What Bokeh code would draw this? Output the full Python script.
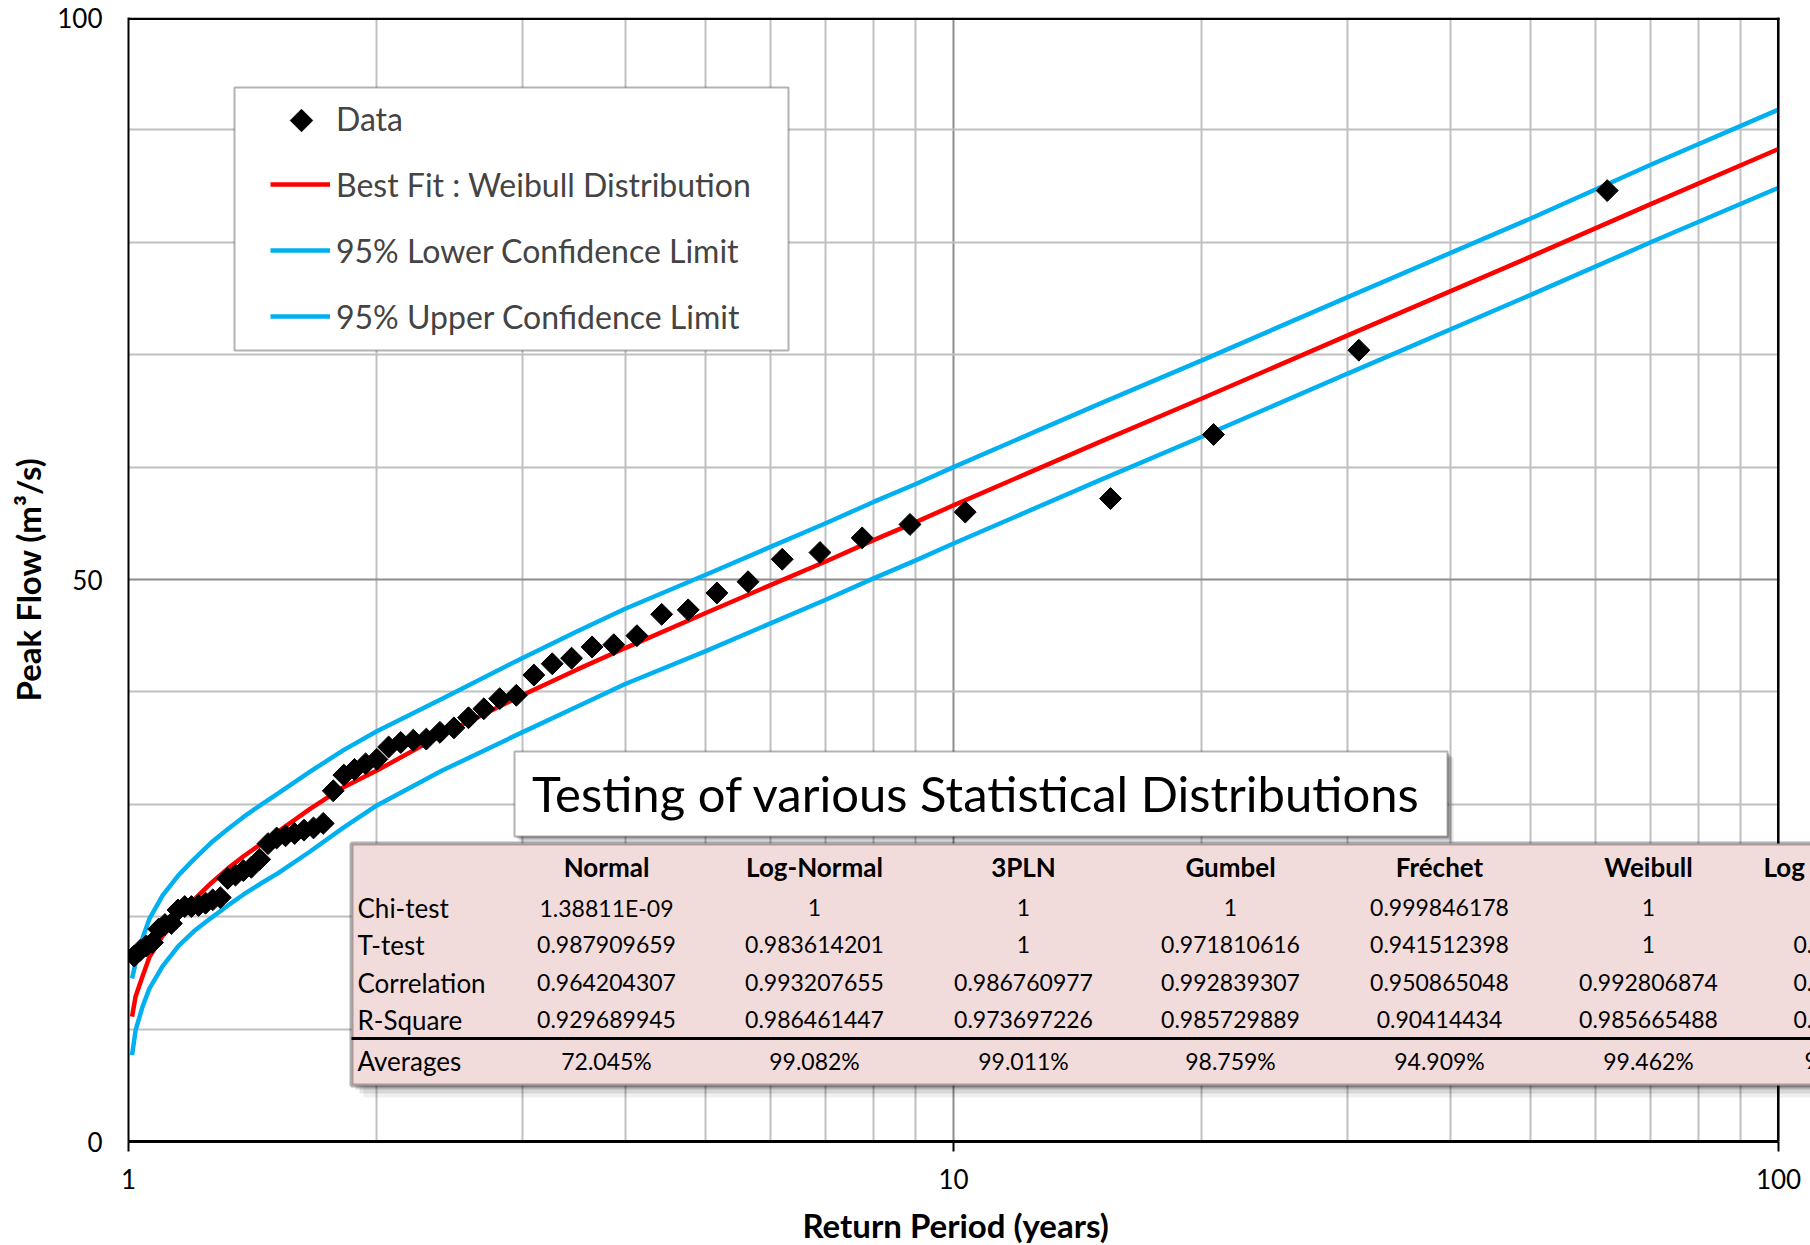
import math
from bokeh.plotting import figure
from bokeh.models import (FixedTicker, BoxAnnotation, PolyAnnotation, Label, Legend,
                          LegendItem, Range1d, Title)
from bokeh.embed import file_html
from bokeh.resources import INLINE

# ---------------- data ----------------
return_period = [62.0, 31.0, 20.667, 15.5, 10.333, 8.857, 7.75, 6.889, 6.2, 5.636,
                 5.167, 4.769, 4.429, 4.133, 3.875, 3.647, 3.444, 3.263, 3.1, 2.952,
                 2.818, 2.696, 2.583, 2.48, 2.385, 2.296, 2.214, 2.138, 2.067, 2.0,
                 1.938, 1.879, 1.824, 1.771, 1.722, 1.676, 1.632, 1.59, 1.55, 1.512,
                 1.476, 1.442, 1.409, 1.378, 1.348, 1.319, 1.292, 1.265, 1.24, 1.216,
                 1.192, 1.17, 1.148, 1.127, 1.107, 1.088, 1.069, 1.051, 1.033, 1.016]
peak_flow = [84.6, 70.4, 62.9, 57.2, 56.0, 54.9, 53.7, 52.4, 51.8, 49.8,
             48.8, 47.3, 46.9, 45.0, 44.2, 44.0, 43.0, 42.5, 41.5, 39.7,
             39.4, 38.5, 37.7, 36.8, 36.4, 35.8, 35.7, 35.5, 35.1, 34.0,
             33.6, 33.1, 32.6, 31.2, 28.3, 27.9, 27.7, 27.4, 27.2, 27.0,
             26.5, 25.1, 24.4, 24.1, 23.7, 23.4, 21.7, 21.5, 21.2, 21.0,
             20.9, 20.9, 20.6, 19.4, 19.3, 18.9, 17.7, 17.4, 17.0, 16.5]

fit_period = [1.01, 1.02, 1.04, 1.06, 1.10, 1.15, 1.20, 1.26, 1.32, 1.38, 1.45, 1.52,
              1.66, 1.82, 2.0, 2.4, 3.0, 3.5, 4.0, 5.0, 6.0, 7.0, 8.0, 9.0, 10.0,
              15.0, 20.0, 30.0, 50.0, 70.0, 100.0]
fit_weibull = [11.1, 12.9, 14.7, 16.4, 18.3, 20.0, 21.5, 23.0, 24.3, 25.4, 26.5, 27.6,
               29.6, 31.5, 33.0, 36.2, 39.7, 42.0, 43.9, 47.0, 49.5, 51.6, 53.5, 55.1, 56.6,
               62.2, 66.1, 71.7, 78.7, 83.4, 88.3]
fit_upper = [14.5, 15.9, 18.1, 19.8, 21.9, 23.7, 25.1, 26.6, 27.8, 28.9, 30.0, 31.0,
             32.9, 34.8, 36.5, 39.4, 43.0, 45.4, 47.4, 50.4, 52.9, 55.0, 56.9, 58.5, 60.0,
             65.6, 69.5, 75.1, 82.1, 86.9, 91.8]
fit_lower = [7.7, 9.9, 12.0, 13.6, 15.6, 17.4, 18.7, 19.9, 21.0, 22.0, 23.0, 23.9,
             25.8, 27.9, 29.9, 33.0, 36.4, 38.7, 40.7, 43.6, 46.1, 48.2, 50.1, 51.7, 53.2,
             58.8, 62.7, 68.3, 75.3, 80.0, 84.85]

x_ticks = [1, 10, 100]
x_minor = [2, 3, 4, 5, 6, 7, 8, 9, 20, 30, 40, 50, 60, 70, 80, 90]
y_ticks = [0, 50, 100]
y_minor = [10, 20, 30, 40, 60, 70, 80, 90]

legend_labels = ["Data", "Best Fit : Weibull Distribution",
                 "95% Lower Confidence Limit", "95% Upper Confidence Limit"]
title_text = "Testing of various Statistical Distributions"
x_title = "Return Period (years)"
y_title = "Peak Flow (m\u00b3/s)"

distributions = ["Normal", "Log-Normal", "3PLN", "Gumbel", "Fr\u00e9chet", "Weibull"]
row_names = ["Chi-test", "T-test", "Correlation", "R-Square", "Averages"]
chi_test = ["1.38811E-09", "1", "1", "1", "0.999846178", "1"]
t_test = ["0.987909659", "0.983614201", "1", "0.971810616", "0.941512398", "1"]
correlation = ["0.964204307", "0.993207655", "0.986760977", "0.992839307", "0.950865048", "0.992806874"]
r_square = ["0.929689945", "0.986461447", "0.973697226", "0.985729889", "0.90414434", "0.985665488"]
averages = ["72.045%", "99.082%", "99.011%", "98.759%", "94.909%", "99.462%"]
# seventh column, cut off by the page edge (only its start is visible)
cut_header = "Log"
cut_values = ["", "0.", "0.9", "0.9", "9"]

# ---------------- layout (pixel positions on the page) ----------------
FONT = "Lato"
X_END = 10 ** ((1810 - 128) / 825.0)   # frame runs to the right page edge

def X(rx):
    return 10 ** ((rx - 128) / 825.0)

def Y(ry):
    return (1141 - ry) / 11.24

p = figure(frame_width=1682, frame_height=1124, x_axis_type="log",
           x_range=Range1d(1, X_END), y_range=Range1d(0, 100),
           min_border_left=128, min_border_right=0, min_border_top=17, min_border_bottom=104,
           output_backend="svg", toolbar_location=None,
           background_fill_color="white", border_fill_color="white")
p.outline_line_color = None

p.xaxis.ticker = FixedTicker(ticks=x_ticks, minor_ticks=x_minor)
p.yaxis.ticker = FixedTicker(ticks=y_ticks, minor_ticks=y_minor)
for g in (p.xgrid, p.ygrid):
    g.grid_line_color = "#8c8c8c"
    g.grid_line_width = 2
    g.minor_grid_line_color = "#c0c0c0"
    g.minor_grid_line_width = 2

p.xaxis.bounds = (1, 100)
p.xaxis.axis_line_width = 3
p.xaxis.major_tick_out = 10
p.xaxis.major_tick_in = 0
p.xaxis.major_tick_line_width = 2
p.xaxis.minor_tick_out = 0
p.xaxis.minor_tick_in = 0
p.xaxis.major_label_standoff = 17
p.yaxis.axis_line_width = 2
p.yaxis.major_tick_out = 0
p.yaxis.major_tick_in = 0
p.yaxis.minor_tick_out = 0
p.yaxis.minor_tick_in = 0
p.yaxis.major_label_standoff = 26
for ax in (p.xaxis, p.yaxis):
    ax.major_label_text_font = FONT
    ax.major_label_text_font_size = "26px"
    ax.major_label_text_color = "black"
    ax.axis_line_color = "black"
p.xaxis.major_label_overrides = {1: "1", 10: "10", 100: "100"}

p.yaxis.axis_label = y_title
p.yaxis.axis_label_text_font = FONT
p.yaxis.axis_label_text_font_size = "33px"
p.yaxis.axis_label_text_font_style = "bold"
p.yaxis.axis_label_text_color = "black"
p.yaxis.axis_label_standoff = 6

# x title placed under the 1..100 span (the frame itself runs on to the page edge)
p.add_layout(Title(text=x_title, align="left", offset=674, standoff=22,
                   text_font=FONT, text_font_size="33px", text_font_style="bold",
                   text_color="black"), "below")

# ---------------- series ----------------
r_low = p.line(fit_period, fit_lower, line_color="#00b0f0", line_width=4.5)
r_up = p.line(fit_period, fit_upper, line_color="#00b0f0", line_width=4.5)
r_fit = p.line(fit_period, fit_weibull, line_color="#ff0000", line_width=4.5)
r_data = p.scatter(return_period, peak_flow, marker="square", angle=math.pi / 4,
                   size=15.5, fill_color="black", line_color="black")
# legend stand-in for the data series (its diamond is drawn below)
r_data_key = p.scatter(x=[], y=[], marker="square", fill_alpha=0, line_alpha=0)

# ---------------- plot border (top / right) and blank strip beyond 100 ----------------
p.add_layout(BoxAnnotation(left=X(1779), right=X_END, bottom=0, top=100,
                           fill_color="white", fill_alpha=1, line_color=None))
p.add_layout(BoxAnnotation(left=1, right=X(1779), top=100, bottom=Y(19.5),
                           fill_color="black", fill_alpha=1, line_color=None))
p.add_layout(BoxAnnotation(left=X(1776.5), right=X(1779), top=100, bottom=0,
                           fill_color="black", fill_alpha=1, line_color=None))

# ---------------- legend ----------------
p.add_layout(BoxAnnotation(left=X(234), right=X(788), top=Y(87), bottom=Y(350),
                           fill_color="white", fill_alpha=1,
                           line_color="black", line_width=2))
p.add_layout(PolyAnnotation(xs=[X(301), X(312.5), X(301), X(289.5)],
                            ys=[Y(108.5), Y(120), Y(131.5), Y(120)],
                            fill_color="black", fill_alpha=1, line_color="black"))
legend = Legend(items=[LegendItem(label=legend_labels[0], renderers=[r_data_key]),
                       LegendItem(label=legend_labels[1], renderers=[r_fit]),
                       LegendItem(label=legend_labels[2], renderers=[r_low]),
                       LegendItem(label=legend_labels[3], renderers=[r_up])],
                location=(142, 803), padding=0, spacing=22, margin=0,
                glyph_width=60, glyph_height=44, label_height=44, label_standoff=6,
                label_text_font=FONT, label_text_font_size="32px",
                border_line_color=None, background_fill_alpha=0)
p.add_layout(legend)

# ---------------- title box ----------------
for off, a in ((6, 0.10), (4, 0.14), (2, 0.18)):
    p.add_layout(BoxAnnotation(left=X(514 + off), right=X(1447 + off), top=Y(751 + off),
                               bottom=Y(836 + off), fill_color="black", fill_alpha=a,
                               line_color=None))
p.add_layout(BoxAnnotation(left=X(514), right=X(1447), top=Y(751), bottom=Y(836),
                           fill_color="white", fill_alpha=1, line_color="black", line_width=2))
p.add_layout(Label(x=X(976), y=Y(792), text=title_text, text_align="center",
                   text_baseline="middle", text_font=FONT, text_font_size="49px",
                   text_color="black"))

# ---------------- table ----------------
for off, a in ((12, 0.06), (8, 0.10), (4, 0.16)):
    p.add_layout(BoxAnnotation(left=X(351 + off), right=X_END, top=Y(843 + off),
                               bottom=Y(1085 + off), fill_color="black", fill_alpha=a,
                               line_color=None))
p.add_layout(BoxAnnotation(left=X(351), right=X(1830), top=Y(843), bottom=Y(1085),
                           fill_color="#f2dcdb", fill_alpha=1, line_color="black", line_width=4))
p.add_layout(BoxAnnotation(left=X(351), right=X_END, top=Y(1036.5), bottom=Y(1039.5),
                           fill_color="black", fill_alpha=1, line_color=None))

col_x = [606, 814, 1023, 1230, 1439, 1648]
row_y = [907, 944, 982, 1019, 1060]
rows = [chi_test, t_test, correlation, r_square, averages]
for cx, name in zip(col_x, distributions):
    p.add_layout(Label(x=X(cx), y=Y(866), text=name, text_align="center",
                       text_baseline="middle", text_font=FONT, text_font_size="26px",
                       text_font_style="bold", text_color="black"))
p.add_layout(Label(x=X(1763), y=Y(866), text=cut_header, text_align="left",
                   text_baseline="middle", text_font=FONT, text_font_size="26px",
                   text_font_style="bold", text_color="black"))
for ry, name, vals, cut in zip(row_y, row_names, rows, cut_values):
    p.add_layout(Label(x=X(357), y=Y(ry), text=name, text_align="left",
                       text_baseline="middle", text_font=FONT, text_font_size="26px",
                       text_color="black"))
    for cx, v in zip(col_x, vals):
        p.add_layout(Label(x=X(cx), y=Y(ry), text=v, text_align="center",
                           text_baseline="middle", text_font=FONT, text_font_size="23px",
                           text_color="black"))
    if cut:
        p.add_layout(Label(x=X(1793 if cut != "9" else 1804), y=Y(ry), text=cut,
                           text_align="left", text_baseline="middle", text_font=FONT,
                           text_font_size="23px", text_color="black"))

open("out.html", "w").write(file_html(p, INLINE))
